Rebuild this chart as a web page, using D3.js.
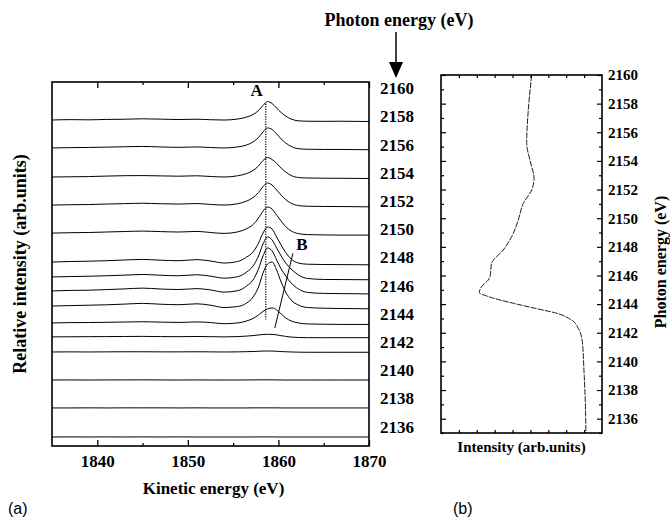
<!DOCTYPE html>
<html>
<head>
<meta charset="utf-8">
<script src="https://cdn.jsdelivr.net/npm/d3@7"></script>
<style>
  body { margin: 0; background: #fff; }
  svg text { font-family: "Liberation Serif", "Times New Roman", serif; font-weight: bold; fill: #000; }
  .tag { font-family: "Liberation Sans", Arial, sans-serif; font-weight: normal; }
</style>
</head>
<body>
<svg id="fig" width="670" height="525"></svg>
<script>
// kinetic energy grid (eV) shared by every spectrum in panel (a)
var kinetic = [1835, 1837, 1839, 1841, 1843, 1845, 1847, 1849, 1851, 1852.5, 1854, 1855.5, 1856.5,
    1857.2, 1857.8, 1858.3, 1858.8, 1859.3, 1859.8, 1860.3, 1860.8, 1861.4, 1862.2, 1863.2, 1865, 1867, 1870];

// photon energy of each scan, and where its zero line sits on the photon-energy scale
var scanEnergy = [2158, 2156, 2154, 2152, 2150, 2148, 2147, 2146, 2145, 2144, 2143, 2142, 2140, 2138, 2136];
var scanZero = [2157.75, 2155.77, 2153.71, 2151.72, 2149.73, 2147.68, 2146.62, 2145.63, 2144.56,
    2143.36, 2142.37, 2141.30, 2139.31, 2137.33, 2135.27];

// relative intensity (arb. units), one row per scan
var spectra = [
    [0, 0.4, 0.2, 0.6, 0.8, 1.2, 0.9, 0.5, 0.8, 0.3, 0, 1, 3, 5.5, 9.5, 14.5, 18.5, 16.5, 12, 7.5, 4, 1, -0.8, -1.2, -1.3, -1.2, -1.5],
    [0, 0.3, 0.5, 0.8, 1.2, 1.5, 1.0, 0.6, 1.0, 0.4, 0, 1, 3, 6, 10.5, 16, 20, 18.5, 14, 9, 5, 1.5, -0.8, -1.3, -1.5, -1.5, -1.8],
    [0, 0.2, 0.4, 0.9, 1.3, 1.4, 1.1, 0.8, 1.2, 0.5, 0, 1.2, 3.5, 6.5, 11, 16.5, 19.5, 17.5, 13.5, 9, 5, 1.5, -0.5, -1, -1.2, -1.3, -1.5],
    [0, 0.3, 0.5, 1, 1.4, 1.8, 1.3, 1.0, 1.5, 0.6, 0, 1.3, 4, 7.5, 12.5, 18.5, 22, 20, 15, 10, 5.5, 1.8, -0.5, -1.2, -1.4, -1.5, -1.8],
    [0, 0.4, 0.6, 1.1, 1.6, 2.0, 1.5, 1.1, 1.7, 0.6, -0.3, 1.2, 4.5, 8.5, 15, 22, 26, 24, 18, 12, 6.5, 2.2, -0.5, -1.5, -1.8, -2, -2],
    [0, 0.5, 0.8, 1.3, 2.0, 2.6, 1.8, 1.3, 2.4, 1.0, -1, 0.5, 5, 10, 19, 29, 35, 33, 25, 17, 9.5, 3, -1, -2.2, -2.5, -2.6, -2.8],
    [0, 0.4, 0.7, 1.2, 1.8, 2.5, 1.7, 1.2, 2.2, 0.8, -1.2, 0.3, 5, 11, 21, 33, 40, 37, 29, 21, 14, 8, 2, -1.5, -2.5, -2.6, -2.8],
    [0, 0.5, 0.7, 1.3, 2.0, 2.8, 1.9, 1.4, 2.3, 1.0, -1.2, 0.2, 5, 11, 22, 35, 43, 40, 31, 22, 15, 8, 2, -1.5, -2.5, -2.7, -3],
    [0, 0.4, 0.8, 1.2, 1.9, 2.6, 1.8, 1.3, 2.2, 0.8, -1.5, -0.5, 3, 9, 19, 33, 42, 44, 36, 24, 14, 6, 1, -1.5, -2.2, -2.5, -2.8],
    [0, 0.3, 0.4, 0.6, 0.9, 1.2, 0.8, 0.5, 1.0, 0.4, -0.8, 0, 2, 4.5, 8, 11.5, 14, 15, 13, 9, 5, 2, 0, -1, -1.3, -1.5, -1.5],
    [0, 0.1, 0.2, 0.3, 0.4, 0.5, 0.3, 0.2, 0.4, 0.2, 0, 0.3, 0.8, 1.3, 1.9, 2.4, 2.6, 2.5, 2.0, 1.2, 0.5, -0.2, -0.6, -0.8, -0.8, -0.8, -0.8],
    [0, 0.1, 0, 0.1, 0.2, 0.2, 0.1, 0.1, 0.2, 0.1, 0, 0.1, 0.3, 0.5, 0.7, 0.9, 1.0, 0.9, 0.7, 0.4, 0.2, 0, -0.2, -0.3, -0.3, -0.3, -0.3],
    [0, 0.1, 0, 0.1, 0.1, 0.2, 0.1, 0, 0.1, 0, 0, 0, 0.1, 0.1, 0.2, 0.2, 0.2, 0.2, 0.1, 0.1, 0, 0, 0, 0, 0, 0, 0],
    [0, 0, 0.1, 0, 0.1, 0.1, 0.1, 0, 0.1, 0, 0, 0, 0, 0.1, 0.1, 0.1, 0.1, 0.1, 0.1, 0, 0, 0, 0, 0, 0, 0, 0],
    [0, 0.1, 0, 0.1, 0, 0.1, 0, 0.1, 0, 0, 0, 0, 0, 0, 0.1, 0.1, 0.1, 0.1, 0, 0, 0, 0, 0, 0, 0, 0, 0]
];

var keTicks = [1840, 1850, 1860, 1870];
var keMinor = [1845, 1855, 1865];
var peTicks = [2160, 2158, 2156, 2154, 2152, 2150, 2148, 2146, 2144, 2142, 2140, 2138, 2136];
var peMinor = [2159, 2157, 2155, 2153, 2151, 2149, 2147, 2145, 2143, 2141, 2139, 2137, 2135];

// peak A position and the line drawn through the B feature
var peakA = 1858.6, peakASpan = [2158.9, 2143.6];
var lineB = [[1859.6, 2143.0], [1861.6, 2148.3]];

// panel (b): total yield vs photon energy
var yieldEnergy = [2160, 2157.56, 2155.23, 2154.06, 2152.78, 2151.97, 2151.04, 2149.87, 2148.71, 2147.78,
    2146.85, 2145.91, 2145.68, 2145.22, 2144.80, 2144.57, 2144.06, 2143.71, 2143.36, 2142.89, 2142.31,
    2141.38, 2139.4, 2137.07, 2135.0];
var yieldIntensity = [5.07, 4.88, 4.79, 4.97, 5.2, 5.07, 4.6, 4.32, 3.95, 3.48,
    2.83, 2.74, 2.64, 2.27, 2.14, 2.55, 4.04, 5.25, 6.47, 7.3, 7.67,
    7.9, 7.99, 8.07, 8.1];
var yieldTicks = [1, 2, 3, 4, 5, 6, 7, 8];

var svg = d3.select("#fig");
svg.append("rect").attr("width", 670).attr("height", 525).attr("fill", "#fff");

// ---------- panel (a)
var A = {left: 52, right: 369, top: 82, bottom: 446};
var x = d3.scaleLinear().domain([1835, 1870]).range([A.left, A.right]);
var yPE = d3.scaleLinear().domain([2160, 2136]).range([88.3, 426.7]);
var yInt = d3.scaleLinear().domain([0, 45]).range([0, 45]);

var pa = svg.append("g");

pa.selectAll("path.trace")
    .data(spectra)
    .enter().append("path")
    .attr("class", "trace")
    .attr("fill", "none")
    .attr("stroke", "#000")
    .attr("stroke-width", 1)
    .attr("d", function(row, k) {
        return d3.line()
            .x(function(d, i) { return x(kinetic[i]); })
            .y(function(d) { return yPE(scanZero[k]) - yInt(d); })
            .curve(d3.curveMonotoneX)(row);
    });

// dotted marker for A
pa.append("line")
    .attr("x1", x(peakA)).attr("x2", x(peakA))
    .attr("y1", yPE(peakASpan[0])).attr("y2", yPE(peakASpan[1]))
    .attr("stroke", "#000").attr("stroke-width", 1.2)
    .attr("stroke-dasharray", "1.2,1.3");

pa.append("line")
    .attr("x1", x(lineB[0][0])).attr("y1", yPE(lineB[0][1]))
    .attr("x2", x(lineB[1][0])).attr("y2", yPE(lineB[1][1]))
    .attr("stroke", "#000").attr("stroke-width", 1);

pa.append("text").attr("x", x(1857.6)).attr("y", yPE(2159.45))
    .attr("text-anchor", "middle").style("font-size", "17px").text("A");
pa.append("text").attr("x", x(1862.6)).attr("y", yPE(2148.53))
    .attr("text-anchor", "middle").style("font-size", "17px").text("B");

// frame
pa.append("rect")
    .attr("x", A.left).attr("y", A.top)
    .attr("width", A.right - A.left).attr("height", A.bottom - A.top)
    .attr("fill", "none").attr("stroke", "#000").attr("stroke-width", 1.6);

pa.append("g").attr("transform", "translate(0," + A.bottom + ")")
    .call(d3.axisBottom(x).tickValues(keTicks).tickSize(-6).tickPadding(9).tickFormat(d3.format("d")));
pa.append("g").attr("transform", "translate(0," + A.bottom + ")")
    .call(d3.axisBottom(x).tickValues(keMinor).tickSize(-3).tickFormat(""));
pa.append("g").attr("transform", "translate(0," + A.top + ")")
    .call(d3.axisTop(x).tickValues(keTicks).tickSize(-6).tickFormat(""));
pa.append("g").attr("transform", "translate(0," + A.top + ")")
    .call(d3.axisTop(x).tickValues(keMinor).tickSize(-3).tickFormat(""));
pa.append("g").attr("transform", "translate(" + A.right + ",0)")
    .call(d3.axisRight(yPE).tickValues(peTicks).tickSize(0).tickPadding(11).tickFormat(d3.format("d")));

pa.selectAll(".domain").remove();
pa.selectAll(".tick line").attr("stroke", "#000").attr("stroke-width", 1.3);
pa.selectAll(".tick text").style("font-size", "17px");

pa.append("text").attr("x", (A.left + A.right) / 2 + 3).attr("y", 494)
    .attr("text-anchor", "middle").style("font-size", "17px").text("Kinetic energy (eV)");
pa.append("text")
    .attr("transform", "translate(26," + ((A.top + A.bottom) / 2) + ") rotate(-90)")
    .attr("text-anchor", "middle").style("font-size", "18px").text("Relative intensity (arb.units)");

// top annotation
svg.append("text").attr("x", 399).attr("y", 26).attr("text-anchor", "middle")
    .style("font-size", "18px").text("Photon energy (eV)");
svg.append("line").attr("x1", 396).attr("x2", 396).attr("y1", 32).attr("y2", 64)
    .attr("stroke", "#000").attr("stroke-width", 1.5);
svg.append("path").attr("d", "M389,62L403,62L396,78Z").attr("fill", "#000");

// ---------- panel (b)
var Bp = {left: 441, right: 602, top: 75, bottom: 433};
var xB = d3.scaleLinear().domain([0, 9]).range([Bp.left, Bp.right]);
var yB = d3.scaleLinear().domain([2135, 2160]).range([Bp.bottom, Bp.top]);

var pb = svg.append("g");

pb.append("path")
    .datum(yieldEnergy)
    .attr("fill", "none").attr("stroke", "#222").attr("stroke-width", 1)
    .attr("stroke-dasharray", "6,1.2")
    .attr("d", d3.line()
        .x(function(d, i) { return xB(yieldIntensity[i]); })
        .y(function(d) { return yB(d); })
        .curve(d3.curveMonotoneY));

pb.append("rect")
    .attr("x", Bp.left).attr("y", Bp.top)
    .attr("width", Bp.right - Bp.left).attr("height", Bp.bottom - Bp.top)
    .attr("fill", "none").attr("stroke", "#000").attr("stroke-width", 1.6);

pb.append("g").attr("transform", "translate(0," + Bp.bottom + ")")
    .call(d3.axisBottom(xB).tickValues(yieldTicks).tickSize(-3).tickFormat(""));
pb.append("g").attr("transform", "translate(0," + Bp.top + ")")
    .call(d3.axisTop(xB).tickValues(yieldTicks).tickSize(-3).tickFormat(""));
pb.append("g").attr("transform", "translate(" + Bp.left + ",0)")
    .call(d3.axisLeft(yB).tickValues(peTicks).tickSize(-5).tickFormat(""));
pb.append("g").attr("transform", "translate(" + Bp.left + ",0)")
    .call(d3.axisLeft(yB).tickValues(peMinor).tickSize(-3).tickFormat(""));
pb.append("g").attr("transform", "translate(" + Bp.right + ",0)")
    .call(d3.axisRight(yB).tickValues(peTicks).tickSize(-5).tickPadding(6).tickFormat(d3.format("d")));
pb.append("g").attr("transform", "translate(" + Bp.right + ",0)")
    .call(d3.axisRight(yB).tickValues(peMinor).tickSize(-3).tickFormat(""));

pb.selectAll(".domain").remove();
pb.selectAll(".tick line").attr("stroke", "#000").attr("stroke-width", 1.2);
pb.selectAll(".tick text").style("font-size", "15px");

pb.append("text").attr("x", (Bp.left + Bp.right) / 2).attr("y", 452)
    .attr("text-anchor", "middle").style("font-size", "15px").text("Intensity (arb.units)");
pb.append("text")
    .attr("transform", "translate(666,262) rotate(-90)")
    .attr("text-anchor", "middle").style("font-size", "16px").text("Photon energy (eV)");

// panel tags
svg.append("text").attr("class", "tag").attr("x", 8).attr("y", 514).style("font-size", "16px").text("(a)");
svg.append("text").attr("class", "tag").attr("x", 453).attr("y", 514).style("font-size", "16px").text("(b)");
</script>
</body>
</html>
